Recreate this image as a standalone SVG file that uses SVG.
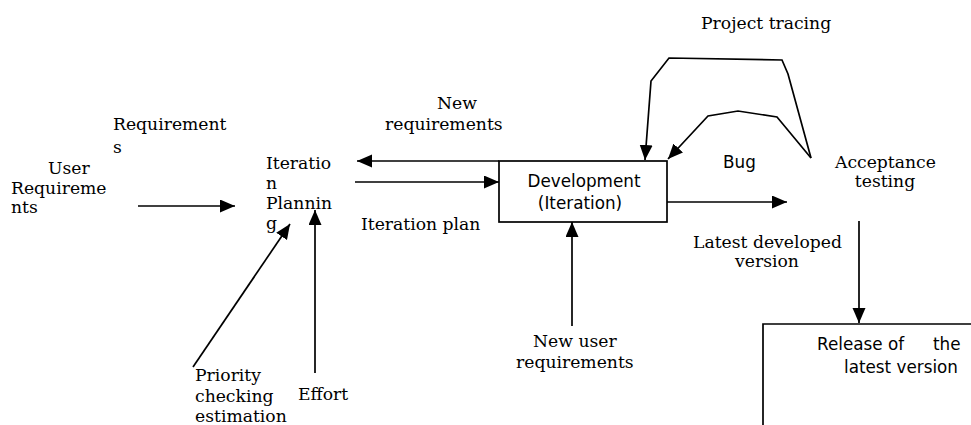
<svg xmlns="http://www.w3.org/2000/svg" width="971" height="425" viewBox="0 0 971 425">
  <style>
    .serif { font-family: "DejaVu Serif", "Liberation Serif", serif; font-size: 17.2px; fill: #000; }
    .sans { font-family: "DejaVu Sans", "Liberation Sans", sans-serif; font-size: 16.8px; fill: #000; }
    .mid { text-anchor: middle; }
    .edge { fill: none; stroke: #000; stroke-width: 1.7; stroke-linejoin: miter; }
    .arrow { marker-end: url(#head); }
    .box { fill: #fff; stroke: #000; stroke-width: 1.7; }
  </style>
  <defs>
    <marker id="head" markerUnits="userSpaceOnUse" markerWidth="16" markerHeight="14" refX="15" refY="6.5" orient="auto">
      <path d="M0,0 L15,6.5 L0,13 z" fill="#000"/>
    </marker>
  </defs>
  <rect width="971" height="425" fill="#fff"/>

  <!-- connectors -->
  <g id="connectors">
    <line class="edge arrow" x1="138" y1="206" x2="235" y2="206"/>
    <line class="edge arrow" x1="499" y1="161" x2="357" y2="161"/>
    <line class="edge arrow" x1="355" y1="182" x2="499" y2="182"/>
    <line class="edge arrow" x1="193" y1="367" x2="290" y2="224"/>
    <line class="edge arrow" x1="315" y1="373" x2="315" y2="210"/>
    <line class="edge arrow" x1="572" y1="326" x2="572" y2="222"/>
    <line class="edge arrow" x1="667" y1="202" x2="787" y2="202"/>
    <polyline class="edge arrow" points="811,158 788,74 782,60 669,58 651,81 645,160"/>
    <polyline class="edge arrow" points="811,158 777,117 738,111 708,116 668,159"/>
    <line class="edge arrow" x1="859" y1="221" x2="859" y2="323"/>
  </g>

  <g id="label-requirements">
    <text class="serif" x="113" y="130">Requirement</text>
    <text class="serif" x="113" y="153">s</text>
  </g>

  <g id="user-requirements">
    <text class="serif" x="48" y="174">User</text>
    <text class="serif" x="11" y="194">Requireme</text>
    <text class="serif" x="11" y="213">nts</text>
  </g>

  <g id="iteration-planning">
    <text class="serif" x="266" y="169">Iteratio</text>
    <text class="serif" x="266" y="189">n</text>
    <text class="serif" x="266" y="209">Plannin</text>
    <text class="serif" x="266" y="229">g</text>
  </g>

  <g id="label-new-requirements">
    <text class="serif mid" x="457" y="109">New</text>
    <text class="serif" x="385" y="130">requirements</text>
  </g>

  <g id="label-iteration-plan">
    <text class="serif" x="361" y="230">Iteration plan</text>
  </g>

  <g id="development">
    <rect class="box" x="499" y="161" width="168" height="61"/>
    <text class="sans mid" x="584" y="187">Development</text>
    <text class="sans mid" x="580" y="209">(Iteration)</text>
  </g>

  <g id="new-user-requirements">
    <text class="serif" x="533" y="347">New user</text>
    <text class="serif" x="516" y="368">requirements</text>
  </g>

  <g id="priority">
    <text class="serif" x="195" y="381">Priority</text>
    <text class="serif" x="195" y="402">checking</text>
    <text class="serif" x="195" y="422">estimation</text>
  </g>

  <g id="effort">
    <text class="serif" x="298" y="400">Effort</text>
  </g>

  <g id="label-project-tracing">
    <text class="serif" x="701" y="29">Project tracing</text>
  </g>

  <g id="label-bug">
    <text class="sans" x="723" y="168">Bug</text>
  </g>

  <g id="acceptance-testing">
    <text class="serif" x="835" y="168">Acceptance</text>
    <text class="serif mid" x="885" y="187">testing</text>
  </g>

  <g id="label-latest-developed">
    <text class="serif" x="693" y="248">Latest developed</text>
    <text class="serif mid" x="767" y="267">version</text>
  </g>

  <g id="release">
    <path class="edge" d="M763,425 V324 H971"/>
    <text class="sans" x="817" y="350">Release of</text>
    <text class="sans" x="933" y="350">the</text>
    <text class="sans" x="844" y="373">latest version</text>
  </g>
</svg>
